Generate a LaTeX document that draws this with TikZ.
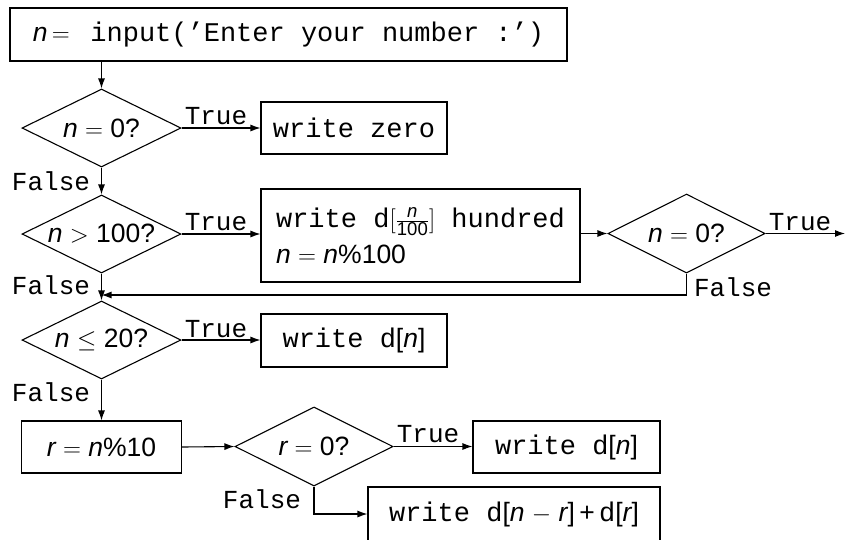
\documentclass[tikz,border=0pt]{standalone}
\usepackage{amsmath}
\usepackage{fontspec}
\setmainfont{Liberation Sans}
\setmonofont{Liberation Mono}
\usetikzlibrary{shapes.geometric,arrows.meta}
\newcommand\sv[1]{{\rmfamily\fontsize{26.5}{30}\selectfont #1}}
\newcommand\varn[1]{{\rmfamily\itshape #1}}
\tikzset{
  box/.style={draw, rectangle, inner sep=0pt, line width=1.1pt,
    font=\ttfamily\fontsize{27}{36}\selectfont},
  dia/.style={draw, diamond, aspect=2.05, inner sep=0pt, line width=1.1pt,
    minimum width=159pt, minimum height=78pt,
    font=\rmfamily\fontsize{26.5}{30}\selectfont},
  lab/.style={font=\ttfamily\fontsize{26}{30}\selectfont, inner sep=0pt},
  arr/.style={-{Latex[length=10pt,width=7pt]}, line width=1.1pt},
}
\begin{document}
\begin{tikzpicture}[x=1pt,y=-1pt]
\useasboundingbox (0,0) rectangle (845,539);
% nodes
\node[box, minimum width=557pt, minimum height=53pt] (top) at (288.5,34.5)
  {\sv{\varn{n}$\,=$}\, input(’Enter your number :’)};
\node[dia] (d1) at (101.5,128) {\varn{n} $=$ 0?};
\node[box, minimum width=186pt, minimum height=52pt] (z) at (354,128) {write zero};
\node[dia] (d2) at (101.5,234) {\varn{n} $>$ 100?};
\node[box, minimum width=319pt, minimum height=93pt, align=left] (h) at (420.5,235.5)
  {write d\sv{$[\frac{\text{\itshape n}}{\text{100}}]$} hundred\\
   \sv{\varn{n} $=$ \varn{n}\%100}};
\node[dia, minimum width=157pt, minimum height=79pt] (d3) at (686.5,233.5) {\varn{n} $=$ 0?};
\node[dia] (d4) at (101.5,340) {\varn{n} $\leq$ 20?};
\node[box, minimum width=186pt, minimum height=53pt] (wn) at (354,340.5)
  {write d\sv{[\varn{n}]}};
\node[box, minimum width=160pt, minimum height=52pt] (r) at (101.5,447)
  {\sv{\varn{r} $=$ \varn{n}\%10}};
\node[dia, minimum width=158pt, minimum height=79pt] (d5) at (314,446.5) {\varn{r} $=$ 0?};
\node[box, minimum width=187pt, minimum height=52pt] (wn2) at (566.5,447)
  {write d\sv{[\varn{n}]}};
\node[box, minimum width=292pt, minimum height=54pt] (wr) at (514,514)
  {write d\sv{[\varn{n} $-$ \varn{r}]\,+\,}d\sv{[\varn{r}]}};
\coordinate (e3) at (845,233.5);
\coordinate (j) at (101.5,295);
% labels
\node[lab] (t1) at (216,116) {True};
\node[lab] (f1) at (51,181) {False};
\node[lab] (t2) at (216,222) {True};
\node[lab] (f2) at (51,285) {False};
\node[lab] (t3) at (800,222) {True};
\node[lab] (f3) at (733,287) {False};
\node[lab] (t4) at (216,329) {True};
\node[lab] (f4) at (51,392) {False};
\node[lab] (t5) at (428,434) {True};
\node[lab] (f5) at (262,499) {False};
% connectors
\draw[arr] (d1.north |- top.south) -- (d1.north);
\draw[arr] (d1.east) -- (d1.east -| z.west);
\draw[arr] (d1.south) -- (d2.north);
\draw[arr] (d2.east) -- (d2.east -| h.west);
\draw[arr] (h.east |- d3.west) -- (d3.west);
\draw[arr] (d3.east) -- (e3);
\draw[arr] (d3.south) |- (j);
\draw[arr] (d2.south) -- (d4.north);
\draw[arr] (d4.east) -- (d4.east -| wn.west);
\draw[arr] (d4.south) -- (r.north);
\draw[arr] (r.east) -- (d5.west);
\draw[arr] (d5.east) -- (d5.east -| wn2.west);
\draw[arr] (d5.south) |- (wr.west);
\end{tikzpicture}
\end{document}
